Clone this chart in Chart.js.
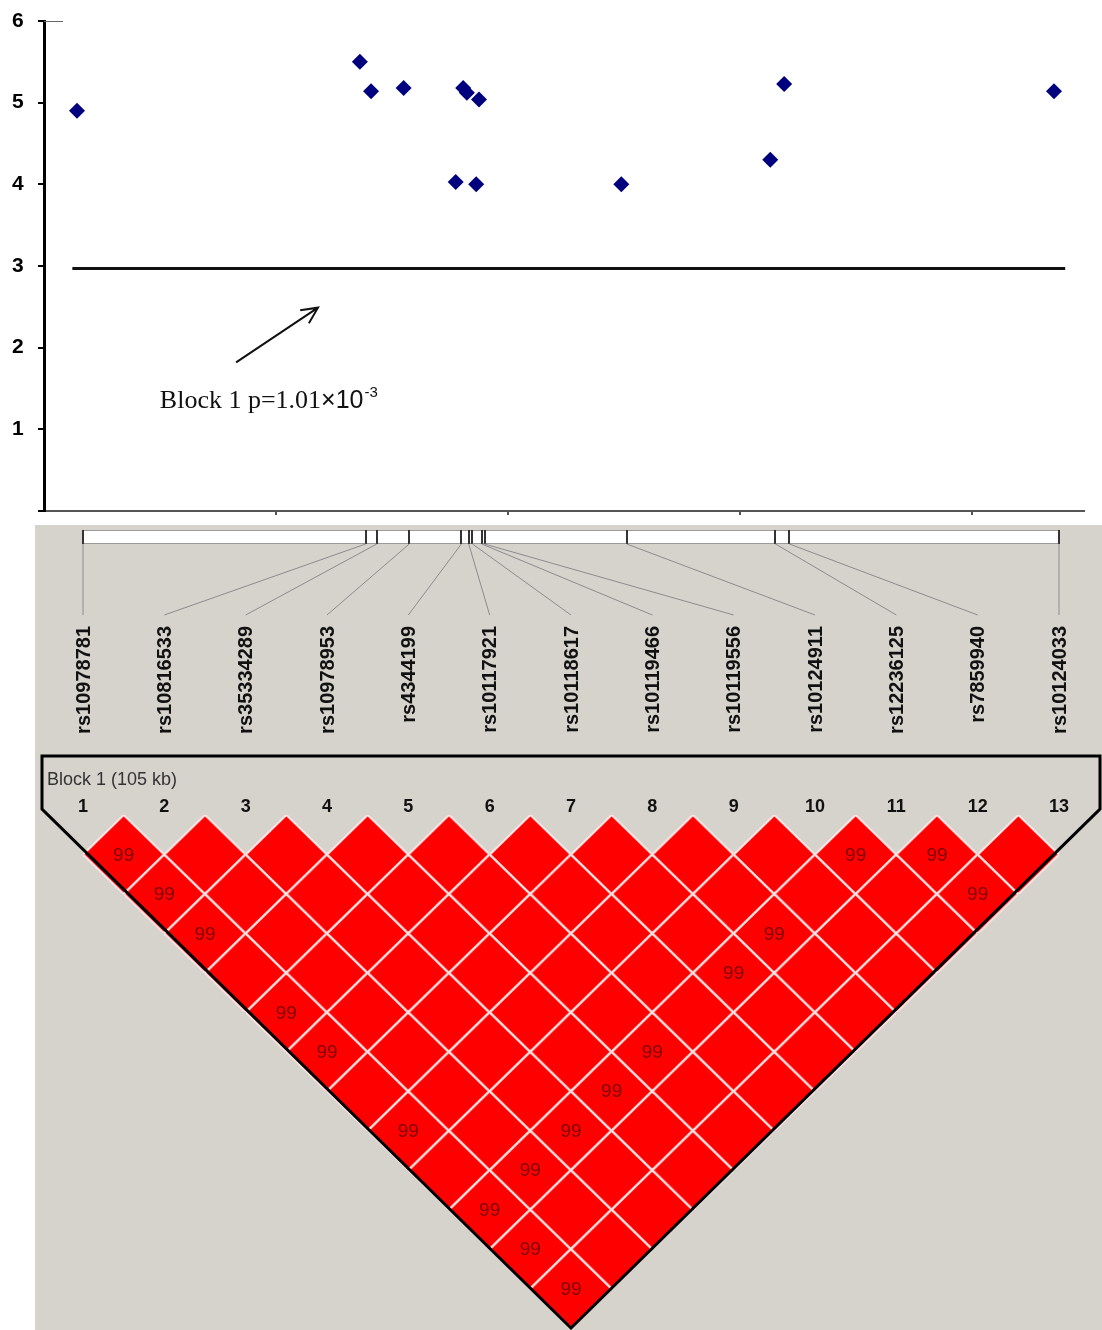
<!DOCTYPE html>
<html>
<head>
<meta charset="utf-8">
<title>Block 1 association and LD plot</title>
<script src="https://cdn.jsdelivr.net/npm/chart.js@4.4.1/dist/chart.umd.min.js"></script>
<style>
  html, body { margin: 0; padding: 0; background: #fff; }
  canvas { display: block; }
</style>
</head>
<body>
<canvas id="assoc-chart" width="1102" height="525"></canvas>
<canvas id="ld-chart" width="1102" height="805"></canvas>
<script>
// SNP names, in map order
const snpNames = [
  "rs10978781", "rs10816533", "rs35334289", "rs10978953", "rs4344199",
  "rs10117921", "rs10118617", "rs10119466", "rs10119556", "rs10124911",
  "rs12236125", "rs7859940", "rs10124033"
];
// marker positions, kb from the first SNP of the block
const snpPositions = [0, 30.4, 31.6, 35.1, 40.7, 41.5, 41.9, 42.9, 43.2, 58.5, 74.5, 76.0, 105];
// -log10(p) of each SNP
const snpLogP = [4.90, 5.50, 5.14, 5.18, 4.03, 5.18, 5.12, 4.00, 5.04, 4.00, 4.30, 5.23, 5.14];
// block haplotype line, -log10(p) and kb extent
const blockLogP = 2.97;
const blockLineX = [-0.5, 106.2];
// kb where the small marks on the position axis sit
const xTickValues = [21.4, 46.3, 71.3, 96.2];
const yTickLabels = ["", "1", "2", "3", "4", "5", "6"];
// D' (x100) for each pair, row i holds SNP i against SNP i+1 .. 13
const dPrime = [
  [99, 99, 99, 100, 99, 99, 100, 99, 100, 99, 99, 99],
  [100, 100, 100, 100, 100, 100, 100, 100, 99, 100, 100],
  [100, 100, 100, 100, 100, 100, 100, 99, 100, 100],
  [100, 100, 100, 100, 100, 100, 99, 100, 100],
  [100, 100, 100, 100, 100, 99, 100, 100],
  [100, 100, 100, 100, 100, 100, 100],
  [100, 100, 100, 99, 100, 100],
  [100, 100, 99, 100, 100],
  [100, 100, 100, 100],
  [99, 100, 100],
  [99, 99],
  [100]
];

const SANS = '"Liberation Sans", Arial, sans-serif';
const SERIF = '"Liberation Serif", "Times New Roman", serif';

// ---------- top: association plot ----------
const kbPxTop = 9.305;           // px per kb in the upper plot
const kbMinTop = -33 / kbPxTop;
const kbMaxTop = kbMinTop + 1040 / kbPxTop;

const assocNotes = {
  id: "assocNotes",
  afterDatasetsDraw(chart) {
    const ctx = chart.ctx;
    const xs = chart.scales.x;
    const ys = chart.scales.y;
    ctx.save();

    // little stub on the top tick
    ctx.strokeStyle = "#666";
    ctx.lineWidth = 1;
    ctx.beginPath();
    ctx.moveTo(xs.left, ys.getPixelForValue(6) + 0.5);
    ctx.lineTo(xs.left + 19, ys.getPixelForValue(6) + 0.5);
    ctx.stroke();

    // arrow pointing at the block line
    const x0 = xs.getPixelForValue(17.1), y0 = ys.getPixelForValue(1.82);
    const x1 = xs.getPixelForValue(25.9), y1 = ys.getPixelForValue(2.49);
    const ang = Math.atan2(y1 - y0, x1 - x0);
    ctx.strokeStyle = "#111";
    ctx.lineWidth = 2;
    ctx.beginPath();
    ctx.moveTo(x0, y0);
    ctx.lineTo(x1, y1);
    ctx.moveTo(x1 - 18 * Math.cos(ang - 0.45), y1 - 18 * Math.sin(ang - 0.45));
    ctx.lineTo(x1, y1);
    ctx.lineTo(x1 - 18 * Math.cos(ang + 0.45), y1 - 18 * Math.sin(ang + 0.45));
    ctx.stroke();

    // p value of the block
    let tx = xs.getPixelForValue(8.9);
    const ty = ys.getPixelForValue(1.26);
    ctx.fillStyle = "#111";
    ctx.textBaseline = "alphabetic";
    ctx.textAlign = "left";
    ctx.font = "26px " + SERIF;
    ctx.fillText("Block 1 p=1.01", tx, ty);
    tx += ctx.measureText("Block 1 p=1.01").width;
    ctx.font = "25px " + SANS;
    ctx.fillText("\u00d710", tx, ty);
    tx += ctx.measureText("\u00d710").width;
    ctx.font = "15px " + SANS;
    ctx.fillText("-3", tx + 1, ty - 11);
    ctx.restore();
  }
};

new Chart(document.getElementById("assoc-chart"), {
  type: "scatter",
  data: {
    datasets: [
      {
        label: "SNP",
        data: snpPositions.map((p, i) => ({ x: p, y: snpLogP[i] })),
        pointStyle: "rectRot",
        pointRadius: 8,
        pointHoverRadius: 8,
        backgroundColor: "#00007f",
        borderWidth: 0
      },
      {
        label: "Block 1",
        data: blockLineX.map(x => ({ x: x, y: blockLogP })),
        showLine: true,
        borderColor: "#111",
        borderWidth: 3,
        pointRadius: 0
      }
    ]
  },
  options: {
    responsive: false,
    animation: false,
    events: [],
    layout: { autoPadding: false, padding: { top: 21, right: 18, bottom: 0, left: 12 } },
    plugins: { legend: { display: false }, tooltip: { enabled: false } },
    scales: {
      x: {
        type: "linear",
        min: kbMinTop,
        max: kbMaxTop,
        afterBuildTicks: s => { s.ticks = xTickValues.map(v => ({ value: v })); },
        ticks: { display: false },
        grid: { drawOnChartArea: false, drawTicks: true, tickLength: 4, color: "#555", lineWidth: 2 },
        border: { color: "#555", width: 2 },
        afterFit: s => { s.height = 14; }
      },
      y: {
        min: 0,
        max: 6,
        ticks: {
          stepSize: 1,
          color: "#000",
          padding: 0,
          crossAlign: "far",
          font: { family: SANS, size: 21, weight: "bold" },
          callback: (v) => yTickLabels[v]
        },
        grid: { drawOnChartArea: false, drawTicks: true, tickLength: 6, color: "#000", lineWidth: 2 },
        border: { color: "#000", width: 3 },
        afterFit: s => { s.width = 32; }
      }
    }
  },
  plugins: [assocNotes]
});

// ---------- bottom: marker map and LD triangle ----------
const colPx = 81.333;             // px between SNP columns
const colMin = 1 - 83 / colPx;
const colMax = colMin + 1102 / colPx;
const depthPx = 39.46;            // px per step of pair distance
const depthMin = -290 / depthPx;
const depthMax = depthMin + 805 / depthPx;
const kbPx = 976 / 105;           // px per kb in the marker bar
const kbMin = -83 / kbPx;
const kbMax = kbMin + 1102 / kbPx;

const ldCells = [];
dPrime.forEach(function(row, r) {
  row.forEach(function(val, k) {
    const i = r + 1;
    const j = r + 2 + k;
    ldCells.push({ x: (i + j) / 2, y: j - i, dp: val });
  });
});

function makeCellImage(w, h) {
  const c = document.createElement("canvas");
  c.width = w;
  c.height = h;
  const g = c.getContext("2d");
  g.beginPath();
  g.moveTo(w / 2, 0);
  g.lineTo(w, h / 2);
  g.lineTo(w / 2, h);
  g.lineTo(0, h / 2);
  g.closePath();
  g.fillStyle = "#ff0000";
  g.fill();
  g.strokeStyle = "#ffe6e6";
  g.lineWidth = 2;
  g.stroke();
  return c;
}
const cellImage = makeCellImage(Math.round(colPx), Math.round(2 * depthPx));

const ldDecorations = {
  id: "ldDecorations",
  beforeDraw(chart) {
    const ctx = chart.ctx;
    ctx.save();
    ctx.fillStyle = "#fff";
    ctx.fillRect(0, 0, chart.width, chart.height);
    ctx.fillStyle = "#d6d3cc";
    ctx.fillRect(35, 0, chart.width - 35, chart.height);
    ctx.restore();
  },
  beforeDatasetsDraw(chart) {
    const ctx = chart.ctx;
    const cs = chart.scales.x;
    const ks = chart.scales.kb;
    ctx.save();

    // marker bar
    const barL = ks.getPixelForValue(snpPositions[0]);
    const barR = ks.getPixelForValue(snpPositions[snpPositions.length - 1]);
    ctx.fillStyle = "#fff";
    ctx.fillRect(barL, 5, barR - barL, 14);
    ctx.strokeStyle = "#9a9a9a";
    ctx.lineWidth = 1;
    ctx.strokeRect(barL + 0.5, 5.5, barR - barL, 13);
    ctx.strokeStyle = "#333";
    ctx.lineWidth = 2;
    snpPositions.forEach(function(p) {
      const px = Math.round(ks.getPixelForValue(p));
      ctx.beginPath();
      ctx.moveTo(px, 5);
      ctx.lineTo(px, 19);
      ctx.stroke();
    });

    // connectors from bar to names
    ctx.strokeStyle = "#8c8c8c";
    ctx.lineWidth = 1;
    snpPositions.forEach(function(p, i) {
      ctx.beginPath();
      ctx.moveTo(ks.getPixelForValue(p), 19);
      ctx.lineTo(cs.getPixelForValue(i + 1), 90);
      ctx.stroke();
    });

    // names, rotated
    ctx.fillStyle = "#111";
    ctx.font = "bold 20px " + SANS;
    ctx.textAlign = "right";
    ctx.textBaseline = "middle";
    snpNames.forEach(function(name, i) {
      ctx.save();
      ctx.translate(cs.getPixelForValue(i + 1) + 1, 101);
      ctx.rotate(-Math.PI / 2);
      ctx.fillText(name, 0, 0);
      ctx.restore();
    });

    // block title and marker numbers
    ctx.textAlign = "left";
    ctx.textBaseline = "alphabetic";
    ctx.fillStyle = "#333";
    ctx.font = "18px " + SANS;
    ctx.fillText("Block 1 (105 kb)", 47, 260);
    ctx.fillStyle = "#111";
    ctx.font = "bold 18px " + SANS;
    ctx.textAlign = "center";
    ctx.textBaseline = "middle";
    snpNames.forEach(function(name, i) {
      ctx.fillText(String(i + 1), cs.getPixelForValue(i + 1), 282);
    });
    ctx.restore();
  },
  afterDatasetsDraw(chart) {
    const ctx = chart.ctx;
    const cs = chart.scales.x;
    const ys = chart.scales.y;
    const meta = chart.getDatasetMeta(0);
    ctx.save();

    // D' values below 100
    ctx.fillStyle = "#7d0000";
    ctx.font = "19px " + SANS;
    ctx.textAlign = "center";
    ctx.textBaseline = "middle";
    meta.data.forEach(function(pt, n) {
      if (ldCells[n].dp < 100) {
        ctx.fillText(String(ldCells[n].dp), pt.x, pt.y + 1);
      }
    });

    // block outline
    const n = snpNames.length;
    const bx = cs.getPixelForValue((1 + n) / 2);
    const by = ys.getPixelForValue(n);
    ctx.strokeStyle = "#000";
    ctx.lineWidth = 3;
    ctx.lineJoin = "miter";
    ctx.beginPath();
    ctx.moveTo(42, 284);
    ctx.lineTo(42, 231);
    ctx.lineTo(2 * bx - 42, 231);
    ctx.lineTo(2 * bx - 42, 284);
    ctx.lineTo(bx, by);
    ctx.closePath();
    ctx.stroke();
    ctx.restore();
  }
};

new Chart(document.getElementById("ld-chart"), {
  type: "scatter",
  data: {
    datasets: [{
      label: "D'",
      data: ldCells,
      pointStyle: cellImage,
      pointRadius: 40,
      pointHoverRadius: 40
    }]
  },
  options: {
    responsive: false,
    animation: false,
    events: [],
    layout: { autoPadding: false, padding: 0 },
    plugins: { legend: { display: false }, tooltip: { enabled: false } },
    scales: {
      x: { type: "linear", display: false, min: colMin, max: colMax },
      kb: { type: "linear", axis: "x", display: false, min: kbMin, max: kbMax },
      y: { type: "linear", display: false, reverse: true, min: depthMin, max: depthMax }
    }
  },
  plugins: [ldDecorations]
});
</script>
</body>
</html>
